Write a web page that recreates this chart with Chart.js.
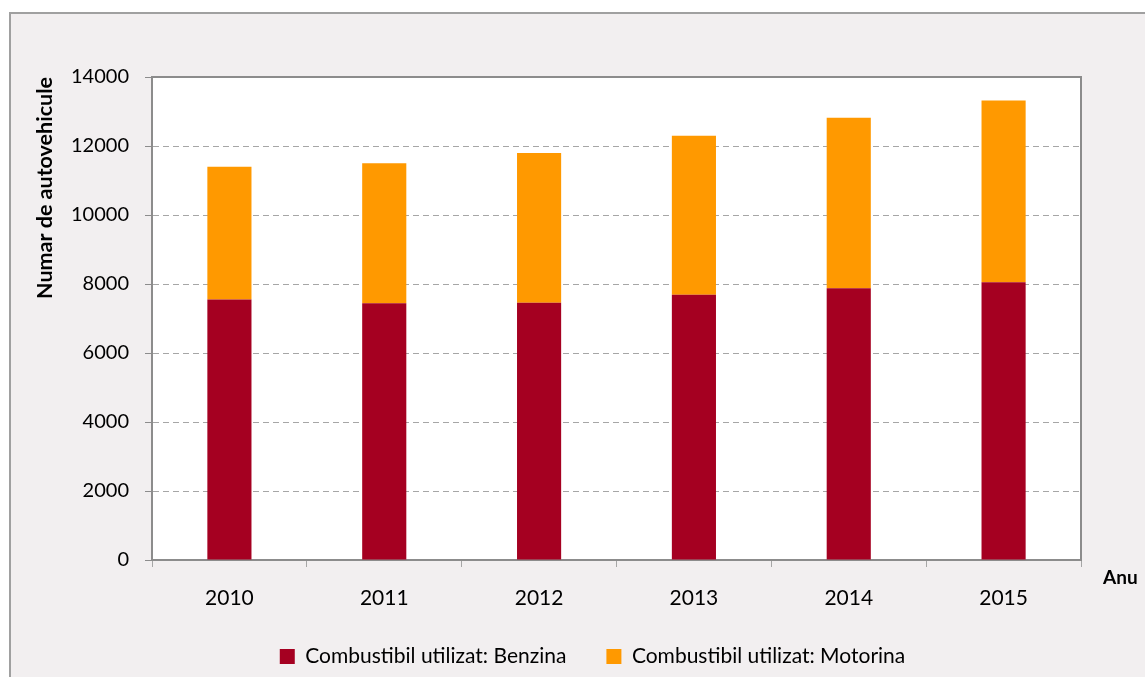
<!DOCTYPE html>
<html>
<head>
<meta charset="utf-8">
<script src="https://cdn.jsdelivr.net/npm/chart.js@4"></script>
<style>
  html, body { margin: 0; padding: 0; background: #ffffff; }
  #wrap { position: relative; width: 1145px; height: 677px; }
</style>
</head>
<body>
<div id="wrap"><canvas id="chart" width="1145" height="677"></canvas></div>
<script>
// data
var years = ["2010", "2011", "2012", "2013", "2014", "2015"];
var benzina = [7550, 7440, 7460, 7690, 7880, 8050];
var motorina = [3850, 4060, 4340, 4610, 4940, 5270];
var yTicks = [0, 2000, 4000, 6000, 8000, 10000, 12000, 14000];

var fontFam = "Lato, 'Liberation Sans', sans-serif";
var gridGrey = "#a6a6a6";
var axisGrey = "#8c8c8c";

// page background, outer frame, plot frame, axis titles
var decor = {
    id: "decor",
    afterLayout: function (chart) {
        // legend sits a bit right of the centre in the original
        chart.legend.left += 52;
        chart.legend.right += 52;
    },
    beforeDraw: function (chart) {
        var ctx = chart.ctx;
        ctx.save();
        ctx.fillStyle = "#ffffff";
        ctx.fillRect(0, 0, chart.width, chart.height);
        ctx.fillStyle = "#f2eff0";
        ctx.fillRect(10, 13, chart.width, chart.height);
        ctx.strokeStyle = "#a0a0a0";
        ctx.lineWidth = 2;
        ctx.beginPath();
        ctx.moveTo(10, chart.height + 5);
        ctx.lineTo(10, 13);
        ctx.lineTo(chart.width + 5, 13);
        ctx.stroke();
        var a = chart.chartArea;
        ctx.fillStyle = "#ffffff";
        ctx.fillRect(a.left, a.top, a.right - a.left, a.bottom - a.top);
        ctx.restore();
    },
    afterDraw: function (chart) {
        var ctx = chart.ctx;
        var a = chart.chartArea;
        ctx.save();
        ctx.strokeStyle = axisGrey;
        ctx.lineWidth = 2;
        ctx.beginPath();
        ctx.moveTo(a.left, a.top);
        ctx.lineTo(a.right, a.top);
        ctx.lineTo(a.right, a.bottom);
        ctx.stroke();
        ctx.fillStyle = "#000000";
        ctx.font = "bold 19px " + fontFam;
        ctx.textBaseline = "middle";
        ctx.textAlign = "left";
        ctx.fillText("Anu", a.right + 22, a.bottom + 18);
        ctx.font = "bold 21.5px " + fontFam;
        ctx.translate(45, 188);
        ctx.rotate(-Math.PI / 2);
        ctx.textAlign = "center";
        ctx.fillText("Numar de autovehicule", 0, 0);
        ctx.restore();
    }
};

new Chart(document.getElementById("chart"), {
    type: "bar",
    data: {
        labels: years,
        datasets: [{
            label: "Combustibil utilizat: Benzina",
            data: benzina,
            backgroundColor: "#a50021",
            barPercentage: 0.57,
            categoryPercentage: 0.5
        }, {
            label: "Combustibil utilizat: Motorina",
            data: motorina,
            backgroundColor: "#ff9900",
            barPercentage: 0.57,
            categoryPercentage: 0.5
        }]
    },
    options: {
        responsive: false,
        animation: false,
        layout: { padding: { top: 77, right: 64, left: 0, bottom: 0 } },
        plugins: {
            legend: {
                position: "bottom",
                labels: {
                    font: { family: fontFam, size: 21 },
                    color: "#000000",
                    boxWidth: 15,
                    boxHeight: 15,
                    padding: 40
                }
            },
            tooltip: { enabled: false }
        },
        scales: {
            x: {
                stacked: true,
                grid: {
                    offset: true,
                    drawOnChartArea: false,
                    drawTicks: true,
                    tickLength: 7,
                    tickColor: gridGrey,
                    tickWidth: 1
                },
                border: { color: axisGrey, width: 2 },
                ticks: {
                    font: { family: fontFam, size: 21 },
                    color: "#000000",
                    padding: 19
                },
                afterFit: function (s) { s.height = 46; }
            },
            y: {
                stacked: true,
                min: 0,
                max: 14000,
                afterBuildTicks: function (s) {
                    s.ticks = yTicks.map(function (v) { return { value: v }; });
                },
                grid: {
                    color: function (c) {
                        var v = c.tick ? c.tick.value : 0;
                        return (v === 0 || v === 14000) ? "rgba(0,0,0,0)" : gridGrey;
                    },
                    tickColor: axisGrey,
                    tickLength: 7,
                    tickBorderDash: [],
                    lineWidth: 1
                },
                border: { color: axisGrey, width: 2, dash: [6, 4] },
                ticks: {
                    font: { family: fontFam, size: 20 },
                    color: "#000000",
                    padding: 16,
                    callback: function (v) { return String(v); }
                },
                afterFit: function (s) { s.width = 152; }
            }
        }
    },
    plugins: [decor]
});
</script>
</body>
</html>
